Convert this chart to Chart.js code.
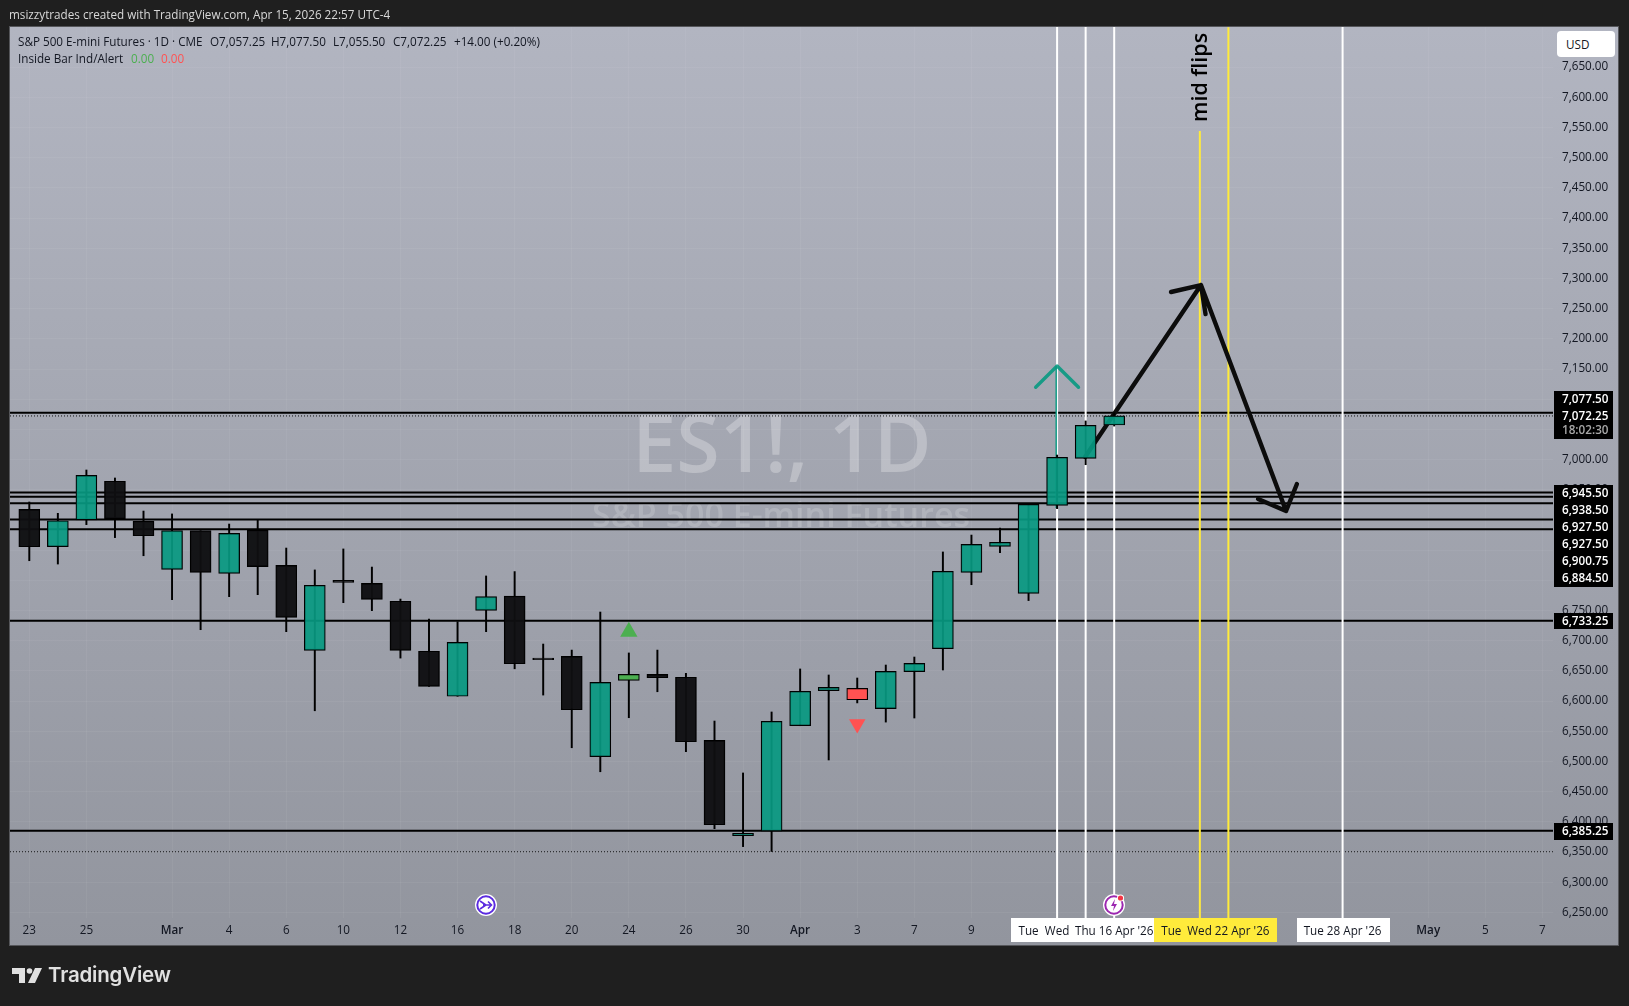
<!DOCTYPE html>
<html>
<head>
<meta charset="utf-8">
<title>ES1! 1D</title>
<script src="https://cdn.jsdelivr.net/npm/chart.js@4"></script>
<style>
  html, body { margin: 0; padding: 0; background: #1f1f1f; overflow: hidden; }
  body { width: 1629px; height: 1006px; position: relative; font-family: "Open Sans", sans-serif; }
  #panel { position: absolute; left: 10px; top: 27px; width: 1608px; height: 918px; background: linear-gradient(#b2b5c1, #92959e); box-shadow: 0 0 0 1px #55565a; }
  #myChart { position: absolute; left: 0; top: 0; }
  .txt { position: absolute; white-space: pre; font-size: 11.7px; line-height: 16px; color: #131722; }
  #usd { position: absolute; left: 1557px; top: 31px; width: 58px; height: 26px; background: #fff; border-radius: 4px; font-size: 11.7px; line-height: 26px; color: #131722; text-indent: 9px; }
  #logoText { position: absolute; left: 48px; top: 961px; font-family: Inter, sans-serif; font-weight: 600; font-size: 20.5px; line-height: 28px; color: #e0e0e0; letter-spacing: -0.2px; }
  svg { position: absolute; }
</style>
</head>
<body>
<div id="panel"></div>
<canvas id="myChart" width="1629" height="1006"></canvas>

<div class="txt" style="left:9px;top:6px;color:#d8d8d8">msizzytrades created with TradingView.com, Apr 15, 2026 22:57 UTC-4</div>
<div class="txt" style="left:18px;top:33px">S&amp;P 500 E-mini Futures · 1D · CME</div>
<div class="txt" style="left:210px;top:33px">O7,057.25</div>
<div class="txt" style="left:271px;top:33px">H7,077.50</div>
<div class="txt" style="left:333px;top:33px">L7,055.50</div>
<div class="txt" style="left:393px;top:33px">C7,072.25</div>
<div class="txt" style="left:454px;top:33px">+14.00 (+0.20%)</div>
<div class="txt" style="left:18px;top:50px">Inside Bar Ind/Alert</div>
<div class="txt" style="left:131px;top:50px;color:#4caf50">0.00</div>
<div class="txt" style="left:161px;top:50px;color:#ff5252">0.00</div>
<div id="usd">USD</div>

<svg style="left:474px;top:893px" width="24" height="24" viewBox="0 0 24 24">
  <circle cx="12" cy="12" r="11" fill="#fff"/>
  <circle cx="12" cy="12" r="8.7" fill="#fff" stroke="#5b2be0" stroke-width="2"/>
  <path d="M6 8l6 4-6 4M9 12h8M14 8.5l3.5 3.5-3.5 3.5" fill="none" stroke="#5b2be0" stroke-width="1.6"/>
</svg>
<svg style="left:1102px;top:893px" width="24" height="24" viewBox="0 0 24 24">
  <circle cx="12" cy="12" r="11" fill="#fff"/>
  <circle cx="12" cy="12" r="8.7" fill="#fff" stroke="#9c27b0" stroke-width="2"/>
  <path d="M13 6l-4 7h3l-1 5 4-7h-3z" fill="#9c27b0"/>
  <circle cx="18.5" cy="5" r="3.6" fill="#fff"/>
  <circle cx="18.5" cy="5" r="2.6" fill="#f23645"/>
</svg>
<svg style="left:12px;top:968px" width="31" height="16" viewBox="0 0 31 16">
  <path d="M0 0h13v15H7V6H0z" fill="#e0e0e0"/>
  <circle cx="17.5" cy="3" r="2.8" fill="#e0e0e0"/>
  <path d="M23 0h7l-7 15h-7z" fill="#e0e0e0"/>
</svg>
<div id="logoText">TradingView</div>

<script>
const opens = [6917.5,6855.75,6900,6964,6898.25,6818.25,6882.25,6811.5,6883.25,6824.75,6684,6800,6795,6765.25,6682.5,6608,6750.25,6774,6671.25,6674,6508,6634.25,6644.25,6639.5,6535,6377,6384.75,6559.25,6617.25,6621,6587.5,6648.75,6686.75,6813.25,6856.25,6778.5,6924.25,7002,7057.25];
const highs = [6929.75,6911,6982.75,6969.5,6914.75,6910,6882.25,6893.25,6900,6853.5,6817.25,6852,6822,6769,6736,6731.5,6807.25,6814.5,6694.5,6684.5,6747.5,6679.75,6684.5,6646,6567,6481,6582,6653.25,6643.25,6638.25,6659.75,6673,6847,6875,6886.5,6926,7007.5,7064,7077.5];
const lows = [6832.5,6827,6892.25,6870.75,6840.75,6768,6718.25,6773,6776.25,6715,6584,6763,6749.75,6671.25,6624.5,6608,6715,6653.5,6610,6522.75,6483,6572.5,6615.5,6516.25,6388.75,6359,6351,6559.25,6502.5,6597,6565.25,6572,6651.5,6792.75,6845.75,6766.5,6918.75,6991.5,7055.5];
const closes = [6855.75,6898.75,6973.75,6902,6874,6882.25,6813.25,6877.75,6822.75,6738.75,6791.75,6796.75,6768.5,6684,6624.5,6697.25,6773,6662,6668.5,6585.75,6631,6644.25,6638.75,6532.75,6395.25,6381,6566.5,6616.25,6622.75,6602.25,6649.25,6662.5,6815,6859.5,6863,6926,7003.75,7056.75,7072.25];
const insideUp = [21];
const insideDown = [29];

const levels = [7077.5,6945.5,6938.5,6927.5,6927.5,6900.75,6884.5,6733.25,6385.25];
const dottedLevels = [7072.25,6350.5];
const whiteBars = [36,37,38,46];
const yellowBars = [41,42];
const yellowTops = [7544,7716];

const priceTicks = [6250,6300,6350,6400,6450,6500,6550,6600,6650,6700,6750,6800,6850,6900,6950,7000,7050,7100,7150,7200,7250,7300,7350,7400,7450,7500,7550,7600,7650];
const dayTicks = [0,2,5,7,9,11,13,15,17,19,21,23,25,27,29,31,33,49,51,53];
const dayLabels = ['23','25','Mar','4','6','10','12','16','18','20','24','26','30','Apr','3','7','9','May','5','7'];
const monthLabels = ['Mar','Apr','May'];

// hand drawn path, null breaks the line
const pathX = [36.98,41.04,44.02,null,39.99,41.04,41.2,null,43.04,44.02,44.4];
const pathY = [7004.25,7289,6914.75,null,7277.5,7289,7241,null,6934.75,6914.75,6959.5];
const chevronX = [35.25,36,36.75];
const chevronY = [7119.75,7155,7119.75];
const stemX = [35.97,35.97];
const stemY = [7155,6919.75];

const upTriX = [21];
const upTriY = [6715];
const downTriX = [29];
const downTriY = [6562];

const priceTags = ['7,077.50','7,072.25','6,945.50','6,938.50','6,927.50','6,927.50','6,900.75','6,884.50','6,733.25','6,385.25'];
const timer = '18:02:30';

const xMin = -0.676, xMax = 53.37, yMin = 6240.8, yMax = 7716.4;

const bodyColor = (i) => {
    if (insideUp.includes(i)) return '#4caf50';
    if (insideDown.includes(i)) return '#ff5252';
    return closes[i] >= opens[i] ? 'rgba(8,153,129,0.92)' : 'rgba(15,15,17,0.96)';
};
const toPoints = (xs, ys) => xs.map((x, i) => ({ x: x, y: ys[i] }));
const spans = (vals, a, b, horizontal) => {
    const out = [];
    vals.forEach((v, i) => {
        if (horizontal) out.push({ x: a, y: v }, { x: b, y: v }, { x: a, y: null });
        else out.push({ x: v, y: Array.isArray(a) ? a[i] : a }, { x: v, y: b }, { x: v, y: null });
    });
    return out;
};
const lineSet = (data, color, width, order, extra) => Object.assign({
    type: 'line', data: data, borderColor: color, borderWidth: width, order: order,
    pointRadius: 0, tension: 0, spanGaps: false, fill: false
}, extra || {});

const overlay = {
    id: 'overlay',
    beforeDatasetsDraw(chart) {
        const ctx = chart.ctx;
        ctx.save();
        ctx.textAlign = 'center';
        ctx.textBaseline = 'middle';
        ctx.fillStyle = 'rgba(255,255,255,0.27)';
        ctx.font = '600 79px "Open Sans"';
        ctx.fillText('ES1!, 1D', 782, 449);
        ctx.fillStyle = 'rgba(255,255,255,0.17)';
        ctx.font = '600 34px "Open Sans"';
        ctx.fillText('S&P 500 E-mini Futures', 781, 517);
        ctx.restore();
    },
    afterDraw(chart) {
        const ctx = chart.ctx;
        const xs = chart.scales.x;
        ctx.save();
        ctx.textBaseline = 'middle';

        // mid flips text on the yellow line
        ctx.save();
        ctx.translate(xs.getPixelForValue(41) + 7, 122);
        ctx.rotate(-Math.PI / 2);
        ctx.font = '600 21.5px "Open Sans"';
        ctx.fillStyle = '#000';
        ctx.textBaseline = 'alphabetic';
        ctx.textAlign = 'left';
        ctx.fillText('mid flips', 0, 0);
        ctx.restore();

        // time axis labels of the vertical lines
        ctx.fillStyle = '#fff';
        ctx.fillRect(1011, 918, 143, 24);
        ctx.fillRect(1297, 918, 93, 24);
        ctx.fillStyle = '#ffeb3b';
        ctx.fillRect(1154, 918, 123, 24);
        ctx.fillStyle = '#131722';
        ctx.textAlign = 'center';
        ctx.font = '11.7px "Open Sans"';
        [['Tue', 35], ['Wed', 36], ["Thu 16 Apr '26", 38], ['Tue', 40], ["Wed 22 Apr '26", 42], ["Tue 28 Apr '26", 46]].forEach((d) => {
            ctx.fillText(d[0], xs.getPixelForValue(d[1]), 932);
        });

        // price tags on the axis
        ctx.fillStyle = '#000';
        ctx.fillRect(1554, 391, 59, 48);
        ctx.fillRect(1554, 485, 59, 102);
        ctx.fillRect(1554, 613, 59, 16);
        ctx.fillRect(1554, 823, 59, 17);
        const rows = [399.5, 416.5, 493.5, 510.5, 527.5, 544.5, 561.5, 578.5, 621.5, 831.5];
        ctx.textAlign = 'left';
        ctx.font = '600 11.7px "Open Sans"';
        ctx.fillStyle = '#fff';
        priceTags.forEach((t, i) => ctx.fillText(t, 1562, rows[i]));
        ctx.fillStyle = '#a8a8a8';
        ctx.fillText(timer, 1562, 430.5);
        ctx.restore();
    }
};

const ctx = document.getElementById('myChart');

new Chart(ctx, {
    type: 'bar',
    data: {
        datasets: [
            lineSet(spans(levels, xMin, xMax, true), '#000', 2, 8),
            lineSet(spans(dottedLevels, xMin, xMax, true), '#111', 1, 8, { borderDash: [1, 2] }),
            lineSet(spans(whiteBars, yMax, yMin), '#fff', 2, 7),
            lineSet(spans(yellowBars, yellowTops, yMin), '#ffeb3b', 2, 7),
            lineSet(toPoints(pathX, pathY), '#0c0c0c', 4.4, 6, { borderCapStyle: 'round', borderJoinStyle: 'round' }),
            lineSet(toPoints(chevronX, chevronY), 'rgba(8,153,129,0.9)', 3.4, 6, { borderCapStyle: 'round', borderJoinStyle: 'round' }),
            lineSet(toPoints(stemX, stemY), 'rgba(8,153,129,0.9)', 1.6, 6),
            {
                type: 'bar', order: 4, grouped: false, barThickness: 1.3, backgroundColor: '#000',
                data: lows.map((l, i) => ({ x: i, y: [l, highs[i]] }))
            },
            {
                type: 'bar', order: 3, grouped: false, barThickness: 21,
                backgroundColor: opens.map((o, i) => bodyColor(i)),
                borderColor: '#000', borderWidth: 1.2, borderSkipped: false,
                data: opens.map((o, i) => ({ x: i, y: [o, closes[i]] }))
            },
            lineSet(toPoints(upTriX, upTriY), 'transparent', 0, 2, {
                showLine: false, pointRadius: 10, pointStyle: 'triangle', pointBackgroundColor: '#4caf50', pointBorderWidth: 0
            }),
            lineSet(toPoints(downTriX, downTriY), 'transparent', 0, 2, {
                showLine: false, pointRadius: 9.5, pointStyle: 'triangle', pointRotation: 180, pointBackgroundColor: '#ff5252', pointBorderWidth: 0
            })
        ]
    },
    options: {
        responsive: false,
        animation: false,
        events: [],
        layout: { padding: { left: 10, top: 27, right: 11, bottom: 61 } },
        plugins: { legend: { display: false }, tooltip: { enabled: false } },
        scales: {
            x: {
                type: 'linear', min: xMin, max: xMax, offset: false,
                grid: { offset: false, color: 'rgba(255,255,255,0.05)', drawTicks: false },
                border: { display: false },
                afterBuildTicks: (scale) => { scale.ticks = dayTicks.map((v) => ({ value: v })); },
                afterFit: (scale) => { scale.height = 27; },
                ticks: {
                    autoSkip: false, maxRotation: 0, minRotation: 0, padding: 6, color: '#131722',
                    font: (c) => {
                        const t = dayLabels[dayTicks.indexOf(c.tick && c.tick.value)];
                        return { family: '"Open Sans"', size: 11.7, weight: monthLabels.includes(t) ? '600' : '400' };
                    },
                    callback: (v) => dayLabels[dayTicks.indexOf(v)]
                }
            },
            y: {
                position: 'right', min: yMin, max: yMax, beginAtZero: false,
                grid: { color: 'rgba(255,255,255,0.05)', drawTicks: false },
                border: { display: false },
                afterBuildTicks: (scale) => { scale.ticks = priceTicks.map((v) => ({ value: v })); },
                afterFit: (scale) => { scale.width = 65; },
                ticks: {
                    autoSkip: false, padding: 9, color: '#131722',
                    font: { family: '"Open Sans"', size: 11.7 },
                    callback: (v) => v.toLocaleString('en-US', { minimumFractionDigits: 2 })
                }
            }
        }
    },
    plugins: [overlay]
});
</script>
</body>
</html>
